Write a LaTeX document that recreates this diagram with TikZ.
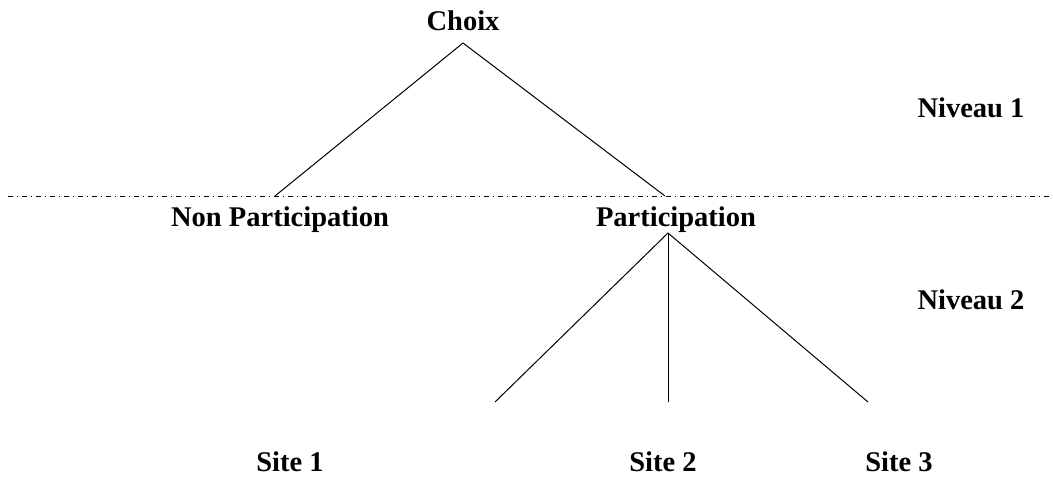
\documentclass[tikz,border=0pt]{standalone}
\usepackage{fontspec}
\setmainfont{Liberation Serif}
\begin{document}
\begin{tikzpicture}[x=1pt,y=-1pt,
  lbl/.style={font=\fontsize{28.5}{30}\selectfont\bfseries, inner sep=0pt, anchor=base},
  branch/.style={line width=1pt, black},
  level/.style={line width=0.9pt, dash pattern=on 5pt off 4pt on 1pt off 4pt}]
  \useasboundingbox (0,0) rectangle (1053,477);

  % labels
  \node[lbl] (choix) at (463,30) {Choix};
  \node[lbl] (nonpart) at (280,226) {Non Participation};
  \node[lbl] (part) at (676,226) {Participation};
  \node[lbl] (site1) at (290,471) {Site 1};
  \node[lbl] (site2) at (663,471) {Site 2};
  \node[lbl] (site3) at (899,471) {Site 3};
  \node[lbl] (niv1) at (971,117) {Niveau 1};
  \node[lbl] (niv2) at (971,309) {Niveau 2};

  % branch end points
  \coordinate (apex) at (463,43);
  \coordinate (npend) at (275,196);
  \coordinate (pend) at (665,196);
  \coordinate (proot) at (668,233);
  \coordinate (s1end) at (495,402);
  \coordinate (s2end) at (668,402);
  \coordinate (s3end) at (868,402);
  \coordinate (sepL) at (8,196);
  \coordinate (sepR) at (1053,196);

  % level separator
  \draw[level] (sepL) -- (sepR);

  % tree
  \draw[branch] (npend) -- (apex) -- (pend);
  \draw[branch] (proot) -- (s1end);
  \draw[branch] (proot) -- (s2end);
  \draw[branch] (proot) -- (s3end);
\end{tikzpicture}
\end{document}
